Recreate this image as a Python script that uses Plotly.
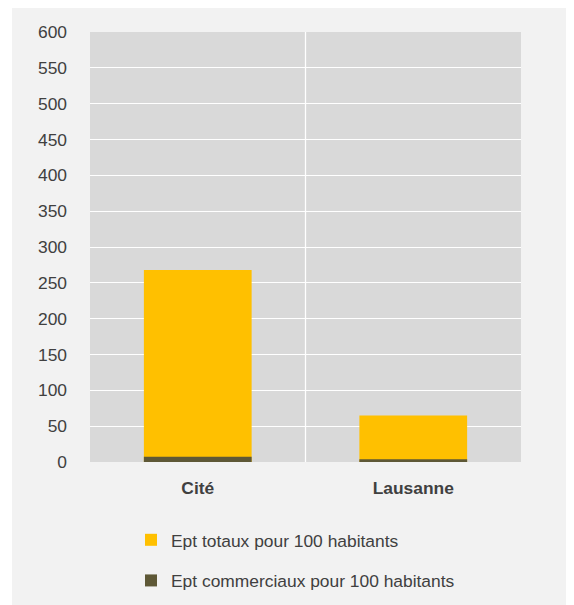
import plotly.graph_objects as go

categories = ["Cité", "Lausanne"]
ept_totaux = [268, 65]
ept_commerciaux = [7.5, 3.7]
series_names = ["Ept totaux pour 100 habitants", "Ept commerciaux pour 100 habitants"]
y_ticks = list(range(0, 601, 50))

# page has an 8px body margin; figure coordinates are page coordinates minus 8
OFF = 8
W, H = 574 - OFF, 605 - OFF
L, R, T, B = 90 - OFF, 53, 32 - OFF, 143
pw, ph = W - L - R, H - T - B

def px_x(p):  # page pixel -> paper x
    return (p - OFF - L) / pw

def px_y(p):  # page pixel -> paper y
    return (H - B - (p - OFF)) / ph

FONT = "Liberation Sans, Arial, sans-serif"
FS = 17.4
TXT = "#404040"

fig = go.Figure()
fig.add_trace(go.Bar(x=categories, y=ept_totaux, name=series_names[0],
                     marker=dict(color="#ffc000", line=dict(width=0)),
                     width=0.5, legendgroup="a"))
fig.add_trace(go.Bar(x=categories, y=ept_commerciaux, name=series_names[1],
                     marker=dict(color="#5e5836", line=dict(width=0)),
                     width=0.5, legendgroup="b"))

fig.update_layout(
    width=W, height=H,
    margin=dict(l=L, r=R, t=T, b=B, pad=0, autoexpand=False),
    barmode="overlay",
    paper_bgcolor="white",
    plot_bgcolor="rgba(0,0,0,0)",
    font=dict(family=FONT, size=FS, color=TXT),
    showlegend=True,
    legend=dict(orientation="v", x=px_x(131), y=px_y(522), xanchor="left", yanchor="top",
                bgcolor="rgba(0,0,0,0)", font=dict(family=FONT, size=FS, color=TXT),
                traceorder="grouped", tracegroupgap=15),
    xaxis=dict(showgrid=False, zeroline=False, showline=False, ticks="",
               tickfont=dict(family=FONT, size=FS, color=TXT, weight="bold"),
               ticklabelstandoff=14),
    yaxis=dict(range=[0, 600], tickvals=y_ticks, showgrid=True, gridcolor="white",
               gridwidth=1.3, zeroline=False, showline=False, ticks="",
               tickfont=dict(family=FONT, size=FS, color=TXT),
               ticklabelstandoff=22),
    shapes=[
        dict(type="rect", xref="paper", yref="paper", x0=px_x(12), x1=px_x(590),
             y0=px_y(620), y1=px_y(7), fillcolor="#f2f2f2", line=dict(width=0), layer="below"),
        dict(type="rect", xref="paper", yref="paper", x0=0, x1=1, y0=0, y1=1,
             fillcolor="#d9d9d9", line=dict(width=0), layer="below"),
        dict(type="line", xref="x", yref="paper", x0=0.5, x1=0.5, y0=0, y1=1,
             line=dict(color="white", width=1.3), layer="between"),
    ],
)

fig.write_html("out.html")
